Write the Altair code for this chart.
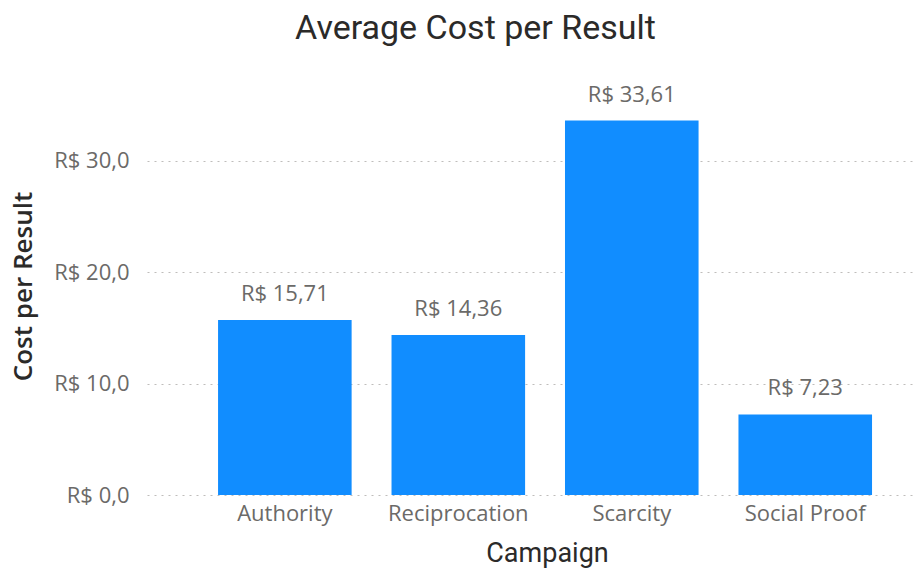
import altair as alt
import pandas as pd

campaigns = ["Authority", "Reciprocation", "Scarcity", "Social Proof"]
costs = [15.71, 14.36, 33.61, 7.23]

df = pd.DataFrame({"Campaign": campaigns, "Cost": costs})

label_font = "Open Sans"
title_font = "Roboto"
label_color = "#6b6a68"
title_color = "#2b2a29"

x = alt.X(
    "Campaign:N",
    sort=campaigns,
    title="Campaign",
    scale=alt.Scale(paddingInner=0.23, paddingOuter=0.32, align=0.64),
    axis=alt.Axis(
        labelAngle=0, labelFont=label_font, labelFontSize=22, labelColor=label_color,
        labelPadding=8, ticks=False, domain=False,
        titleFont=title_font, titleFontSize=27, titleFontWeight=400, titleColor=title_color,
        titlePadding=16, titleX=400,
    ),
)

y_axis = alt.Axis(
    values=[0, 10, 20, 30],
    labelExpr="'R$ ' + replace(format(datum.value, '.1f'), '.', ',')",
    labelFont=label_font, labelFontSize=22, labelColor=label_color, labelPadding=18,
    ticks=False, domain=False,
    grid=True, gridColor="#BFBDBB", gridDash=[2, 5], gridWidth=1,
    titleFont=label_font, titleFontSize=26, titleFontWeight=600, titleColor=title_color,
    titlePadding=17, titleY=192,
)

base = alt.Chart(df).encode(x=x)

bars = base.mark_bar(color="#118DFF").encode(
    y=alt.Y("Cost:Q", title="Cost per Result", scale=alt.Scale(domain=[0, 36], nice=False), axis=y_axis)
)

labels = base.transform_calculate(
    lbl="'R$ ' + replace(format(datum.Cost, '.2f'), '.', ',')"
).mark_text(
    baseline="alphabetic", dy=-19, font=label_font, fontSize=22, color=label_color
).encode(y="Cost:Q", text="lbl:N")

chart = (bars + labels).properties(
    width=765,
    height=401,
    background="white",
    autosize=alt.AutoSizeParams(type="none"),
    padding={"left": 147, "top": 94, "right": 5, "bottom": 78},
    title=alt.TitleParams(
        "Average Cost per Result", font=title_font, fontSize=34, fontWeight=400,
        color=title_color, anchor="middle", dx=-54, offset=38,
    ),
).configure_view(stroke=None)

chart.save("out.html", embed_options={"renderer": "svg", "actions": False})
